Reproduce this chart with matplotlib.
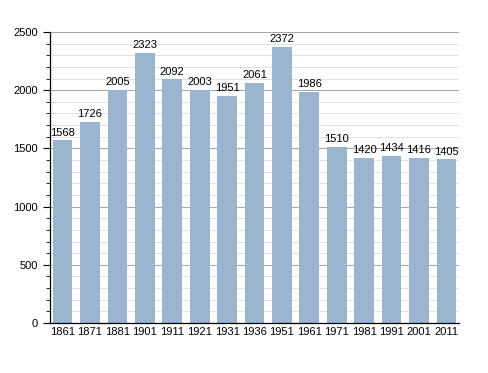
import numpy as np
import matplotlib.pyplot as plt
from matplotlib.ticker import MultipleLocator

years = ["1861", "1871", "1881", "1901", "1911", "1921", "1931", "1936",
         "1951", "1961", "1971", "1981", "1991", "2001", "2011"]
population = [1568, 1726, 2005, 2323, 2092, 2003, 1951, 2061,
              2372, 1986, 1510, 1420, 1434, 1416, 1405]

plt.rcParams['font.family'] = ['Liberation Sans', 'DejaVu Sans']

fig = plt.figure(figsize=(4.88, 3.73), dpi=100)
ax = fig.add_axes([50 / 488, 1 - 323 / 373, 409 / 488, 291 / 373])

x = np.arange(len(years))
ax.bar(x, population, width=0.72, color="#9bb4d0", zorder=2)
for xi, v in zip(x, population):
    ax.text(xi, v + 25, str(v), ha="center", va="bottom", fontsize=8)

ax.set_xlim(-0.46, len(years) - 0.54)
ax.set_ylim(0, 2500)
ax.yaxis.set_major_locator(MultipleLocator(500))
ax.yaxis.set_minor_locator(MultipleLocator(100))
ax.grid(which="major", axis="y", color="#a8a8a8", linewidth=0.8, zorder=0)
ax.grid(which="minor", axis="y", color="#e2e2e2", linewidth=0.8, zorder=0)
ax.set_xticks(x)
ax.set_xticklabels(years)
ax.tick_params(axis="x", length=0, labelsize=8, pad=3)
ax.tick_params(axis="y", which="major", length=5, labelsize=8, direction="out")
ax.tick_params(axis="y", which="minor", length=3, direction="out")
for s in ["top", "right"]:
    ax.spines[s].set_visible(False)
ax.spines["left"].set_linewidth(0.9)
ax.spines["bottom"].set_linewidth(0.9)

fig.savefig("out.png", dpi=100)
